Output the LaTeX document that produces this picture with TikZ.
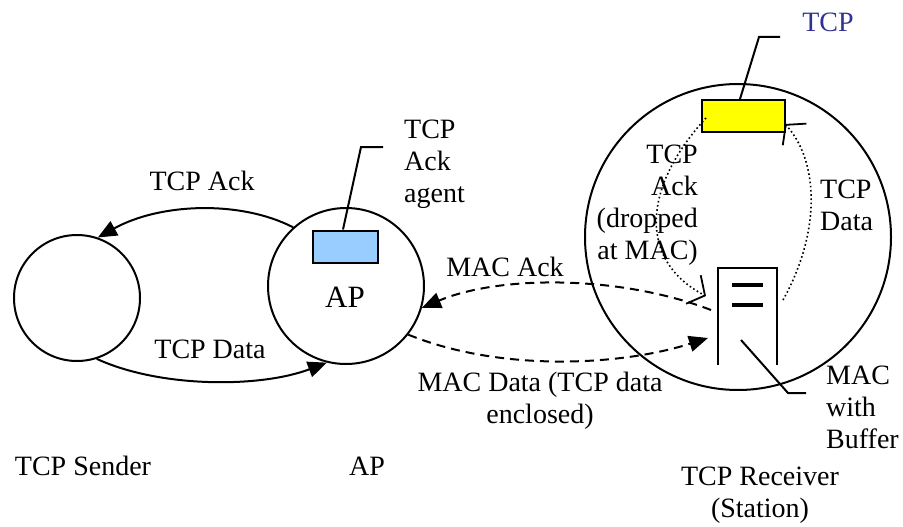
\documentclass[tikz,border=0pt]{standalone}
\usepackage{fontspec}
\setmainfont{Liberation Serif}
\usetikzlibrary{arrows.meta}
\definecolor{agentblue}{RGB}{153,204,255}
\definecolor{tcpyellow}{RGB}{255,255,0}
\definecolor{labelblue}{RGB}{50,50,150}
\begin{document}
\begin{tikzpicture}[x=1pt,y=-1pt,
  txt/.style={font=\fontsize{28}{32}\selectfont, inner sep=0pt},
  circ/.style={draw, circle, line width=2pt, inner sep=0pt},
  box/.style={draw, line width=2pt, inner sep=0pt},
  solidarrow/.style={line width=2pt, -{Triangle[length=19pt,width=16pt]}},
  dasharrow/.style={line width=2pt, dash pattern=on 9pt off 6pt, -{Triangle[length=19pt,width=16pt]}},
  dotarrow/.style={line width=1.6pt, dash pattern=on 1.6pt off 2.6pt, -{Straight Barb[length=13pt,width=32pt,line width=1.8pt]}},
  leader/.style={line width=2pt}
]
\useasboundingbox (0,0) rectangle (903,527);

% circles
\node[circ, minimum size=126pt] (sender) at (77,298) {};
\node[circ, minimum size=156pt] (ap) at (346,286) {};
\node[circ, minimum size=306pt] (recv) at (738,237) {};

% boxes
\node[box, fill=agentblue, minimum width=65pt, minimum height=32pt] (agent) at (345.5,246.5) {};
\node[box, fill=tcpyellow, minimum width=83pt, minimum height=32pt] (tcp) at (743.5,116) {};

% buffer (open at bottom)
\node[minimum width=59pt, minimum height=97pt, inner sep=0pt] (buffer) at (747.5,316.5) {};
\draw[line width=2pt] (buffer.south west) -- (buffer.north west) -- (buffer.north east) -- (buffer.south east);
\draw[line width=4pt] (732,285) -- (763,285);
\draw[line width=4pt] (732,305) -- (763,305);

% texts
\node[txt, font=\fontsize{31}{36}\selectfont] (apin) at (345,297) {AP};
\node[txt] (lsender) at (83,466) {TCP Sender};
\node[txt] (lap) at (367,466) {AP};
\node[txt] (ltcpack) at (202,181) {TCP Ack};
\node[txt] (ltcpdata) at (210,349) {TCP Data};
\node[txt, align=left, anchor=north west] (lagent) at (404,120) {TCP\\Ack\\agent};
\node[txt] (lmacack) at (505,267) {MAC Ack};
\node[txt, align=center] (lmacdata) at (540,401) {MAC Data (TCP data\\enclosed)};
\node[txt, text=labelblue] (ltcp) at (828,22) {TCP};
\node[txt, align=right, anchor=north east] (ldrop) at (698,145) {TCP\\Ack\\(dropped\\at MAC)};
\node[txt, align=left, anchor=north west] (lrdata) at (820,180) {TCP\\Data};
\node[txt, align=left, anchor=north west] (lmac) at (826,366) {MAC\\with\\Buffer};
\node[txt, align=center] (lrecv) at (760,495) {TCP Receiver\\(Station)};

% leaders
\coordinate (agentk) at (361,147);
\coordinate (agente) at (383,147);
\draw[leader] (agent.north -| 343,0) -- (agentk) -- (agente);
\coordinate (tcpk) at (759,37);
\coordinate (tcpe) at (780,37);
\draw[leader] (tcp.north -| 740,0) -- (tcpk) -- (tcpe);
\coordinate (bufs) at (741,340);
\coordinate (bufk) at (788,393);
\coordinate (bufe) at (806,393);
\draw[leader] (bufs) -- (bufk) -- (bufe);

% TCP connectors
\draw[solidarrow] (ap.132) .. controls (240,200) and (160,203) .. (sender.71);
\draw[solidarrow] (sender.288) .. controls (160,388) and (260,388) .. (ap.256);

% MAC connectors
\coordinate (bufack) at (711,310);
\coordinate (bufdata) at (708,338);
\draw[dasharrow] (bufack) .. controls (620,275) and (500,275) .. (ap.-16);
\draw[dasharrow] (ap.-38) .. controls (500,372) and (620,366) .. (bufdata);

% dotted
\coordinate (ackend) at (706,296);
\coordinate (datastart) at (783,300);
\draw[dotarrow] (706,118) .. controls (640,190) and (640,262) .. (ackend);
\draw[dotarrow] (datastart) .. controls (822,230) and (818,160) .. (785,124);
\end{tikzpicture}
\end{document}
